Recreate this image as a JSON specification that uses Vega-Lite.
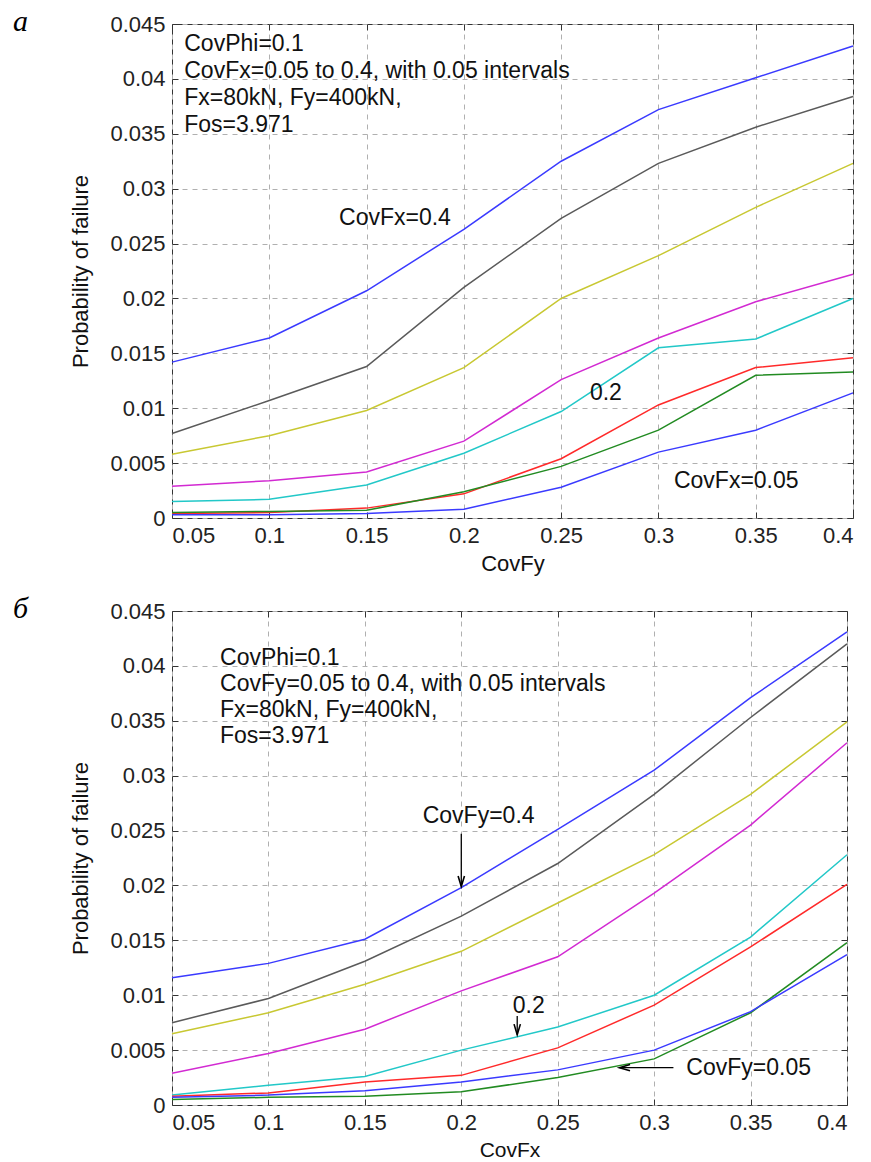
{
"$schema": "https://vega.github.io/schema/vega-lite/v6.json",
"padding": {"left": 12, "top": 6, "right": 10, "bottom": 0},
"background": "white",
"spacing": 18,
"config": {
  "font": "Liberation Sans",
  "view": {"stroke": "#333", "strokeWidth": 1},
  "axis": {"labelFont": "Liberation Sans", "labelFontSize": 22, "labelColor": "#222",
           "titleFont": "Liberation Sans", "titleFontSize": 22, "titleFontWeight": "normal", "titleColor": "#111",
           "grid": true, "gridColor": "#b0b0b0", "gridDash": [5, 5], "gridWidth": 1,
           "domain": false, "tickColor": "#333", "tickSize": -6, "labelPadding": 13, "format": "~g"},
  "axisX": {"titlePadding": 7},
  "axisY": {"titlePadding": 17}
},
"datasets": {
  "pa": [
    {"s":0.4,"x":0.05,"p":0.0142},{"s":0.4,"x":0.1,"p":0.0164},{"s":0.4,"x":0.15,"p":0.0207},{"s":0.4,"x":0.2,"p":0.0263},{"s":0.4,"x":0.25,"p":0.0325},{"s":0.4,"x":0.3,"p":0.0372},{"s":0.4,"x":0.35,"p":0.0401},{"s":0.4,"x":0.4,"p":0.0430},
    {"s":0.35,"x":0.05,"p":0.0077},{"s":0.35,"x":0.1,"p":0.0107},{"s":0.35,"x":0.15,"p":0.0138},{"s":0.35,"x":0.2,"p":0.0210},{"s":0.35,"x":0.25,"p":0.0273},{"s":0.35,"x":0.3,"p":0.0323},{"s":0.35,"x":0.35,"p":0.0356},{"s":0.35,"x":0.4,"p":0.0384},
    {"s":0.3,"x":0.05,"p":0.0058},{"s":0.3,"x":0.1,"p":0.0075},{"s":0.3,"x":0.15,"p":0.0098},{"s":0.3,"x":0.2,"p":0.0137},{"s":0.3,"x":0.25,"p":0.0200},{"s":0.3,"x":0.3,"p":0.0239},{"s":0.3,"x":0.35,"p":0.0283},{"s":0.3,"x":0.4,"p":0.0323},
    {"s":0.25,"x":0.05,"p":0.0029},{"s":0.25,"x":0.1,"p":0.0034},{"s":0.25,"x":0.15,"p":0.0042},{"s":0.25,"x":0.2,"p":0.0070},{"s":0.25,"x":0.25,"p":0.0126},{"s":0.25,"x":0.3,"p":0.0164},{"s":0.25,"x":0.35,"p":0.0197},{"s":0.25,"x":0.4,"p":0.0222},
    {"s":0.2,"x":0.05,"p":0.0015},{"s":0.2,"x":0.1,"p":0.0017},{"s":0.2,"x":0.15,"p":0.0030},{"s":0.2,"x":0.2,"p":0.0059},{"s":0.2,"x":0.25,"p":0.0097},{"s":0.2,"x":0.3,"p":0.0155},{"s":0.2,"x":0.35,"p":0.0163},{"s":0.2,"x":0.4,"p":0.0200},
    {"s":0.15,"x":0.05,"p":0.0004},{"s":0.15,"x":0.1,"p":0.0005},{"s":0.15,"x":0.15,"p":0.0009},{"s":0.15,"x":0.2,"p":0.0022},{"s":0.15,"x":0.25,"p":0.0054},{"s":0.15,"x":0.3,"p":0.0103},{"s":0.15,"x":0.35,"p":0.0137},{"s":0.15,"x":0.4,"p":0.0146},
    {"s":0.1,"x":0.05,"p":0.0005},{"s":0.1,"x":0.1,"p":0.0006},{"s":0.1,"x":0.15,"p":0.0007},{"s":0.1,"x":0.2,"p":0.0024},{"s":0.1,"x":0.25,"p":0.0047},{"s":0.1,"x":0.3,"p":0.0080},{"s":0.1,"x":0.35,"p":0.0130},{"s":0.1,"x":0.4,"p":0.0133},
    {"s":0.05,"x":0.05,"p":0.0003},{"s":0.05,"x":0.1,"p":0.0003},{"s":0.05,"x":0.15,"p":0.0004},{"s":0.05,"x":0.2,"p":0.0008},{"s":0.05,"x":0.25,"p":0.0028},{"s":0.05,"x":0.3,"p":0.0060},{"s":0.05,"x":0.35,"p":0.0080},{"s":0.05,"x":0.4,"p":0.0114}
  ],
  "pb": [
    {"s":0.4,"x":0.05,"p":0.0116},{"s":0.4,"x":0.1,"p":0.0129},{"s":0.4,"x":0.15,"p":0.0151},{"s":0.4,"x":0.2,"p":0.0198},{"s":0.4,"x":0.25,"p":0.0251},{"s":0.4,"x":0.3,"p":0.0305},{"s":0.4,"x":0.35,"p":0.0371},{"s":0.4,"x":0.4,"p":0.0431},
    {"s":0.35,"x":0.05,"p":0.0075},{"s":0.35,"x":0.1,"p":0.0097},{"s":0.35,"x":0.15,"p":0.0131},{"s":0.35,"x":0.2,"p":0.0172},{"s":0.35,"x":0.25,"p":0.0220},{"s":0.35,"x":0.3,"p":0.0283},{"s":0.35,"x":0.35,"p":0.0353},{"s":0.35,"x":0.4,"p":0.0420},
    {"s":0.3,"x":0.05,"p":0.0065},{"s":0.3,"x":0.1,"p":0.0084},{"s":0.3,"x":0.15,"p":0.0110},{"s":0.3,"x":0.2,"p":0.0140},{"s":0.3,"x":0.25,"p":0.0184},{"s":0.3,"x":0.3,"p":0.0228},{"s":0.3,"x":0.35,"p":0.0283},{"s":0.3,"x":0.4,"p":0.0349},
    {"s":0.25,"x":0.05,"p":0.0029},{"s":0.25,"x":0.1,"p":0.0047},{"s":0.25,"x":0.15,"p":0.0069},{"s":0.25,"x":0.2,"p":0.0104},{"s":0.25,"x":0.25,"p":0.0135},{"s":0.25,"x":0.3,"p":0.0193},{"s":0.25,"x":0.35,"p":0.0255},{"s":0.25,"x":0.4,"p":0.0330},
    {"s":0.2,"x":0.05,"p":0.0009},{"s":0.2,"x":0.1,"p":0.0018},{"s":0.2,"x":0.15,"p":0.0026},{"s":0.2,"x":0.2,"p":0.0050},{"s":0.2,"x":0.25,"p":0.0071},{"s":0.2,"x":0.3,"p":0.0100},{"s":0.2,"x":0.35,"p":0.0153},{"s":0.2,"x":0.4,"p":0.0228},
    {"s":0.15,"x":0.05,"p":0.0008},{"s":0.15,"x":0.1,"p":0.0011},{"s":0.15,"x":0.15,"p":0.0021},{"s":0.15,"x":0.2,"p":0.0027},{"s":0.15,"x":0.25,"p":0.0052},{"s":0.15,"x":0.3,"p":0.0091},{"s":0.15,"x":0.35,"p":0.0144},{"s":0.15,"x":0.4,"p":0.0201},
    {"s":0.1,"x":0.05,"p":0.0005},{"s":0.1,"x":0.1,"p":0.0007},{"s":0.1,"x":0.15,"p":0.0008},{"s":0.1,"x":0.2,"p":0.0012},{"s":0.1,"x":0.25,"p":0.0025},{"s":0.1,"x":0.3,"p":0.0042},{"s":0.1,"x":0.35,"p":0.0084},{"s":0.1,"x":0.4,"p":0.0148},
    {"s":0.05,"x":0.05,"p":0.0007},{"s":0.05,"x":0.1,"p":0.0009},{"s":0.05,"x":0.15,"p":0.0013},{"s":0.05,"x":0.2,"p":0.0021},{"s":0.05,"x":0.25,"p":0.0032},{"s":0.05,"x":0.3,"p":0.0050},{"s":0.05,"x":0.35,"p":0.0085},{"s":0.05,"x":0.4,"p":0.0137}
  ],
  "infoA": [{"x": 0.0563, "y": 0.0442, "text": "CovPhi=0.1\nCovFx=0.05 to 0.4, with 0.05 intervals\nFx=80kN, Fy=400kN,\nFos=3.971"}],
  "infoB": [{"x": 0.0749, "y": 0.0417, "text": "CovPhi=0.1\nCovFy=0.05 to 0.4, with 0.05 intervals\nFx=80kN, Fy=400kN,\nFos=3.971"}],
  "labA": [{"x": 0.1646, "y": 0.0273, "text": "CovFx=0.4"}, {"x": 0.273, "y": 0.0114, "text": "0.2"}, {"x": 0.340, "y": 0.0034, "text": "CovFx=0.05"}],
  "labB": [{"x": 0.209, "y": 0.0263, "text": "CovFy=0.4"}, {"x": 0.235, "y": 0.0090, "text": "0.2"}, {"x": 0.349, "y": 0.0034, "text": "CovFy=0.05"}],
  "arrB": [{"x": 0.2, "y": 0.0247, "x2": 0.2, "y2": 0.0199, "dir": "down"}, {"x": 0.229, "y": 0.0081, "x2": 0.229, "y2": 0.0064, "dir": "down"}, {"x": 0.310, "y": 0.0034, "x2": 0.282, "y2": 0.0034, "dir": "left"}]
},
"vconcat": [
  {
    "width": 681, "height": 494,
    "title": {"text": "а", "anchor": "start", "frame": "group", "orient": "top", "dx": -159, "dy": 48, "offset": 0, "baseline": "alphabetic", "font": "Liberation Serif", "fontStyle": "italic", "fontWeight": "normal", "fontSize": 30, "color": "#000"},
    "resolve": {"axis": {"x": "independent", "y": "independent"}},
    "layer": [
      {
        "data": {"name": "pa"},
        "mark": {"type": "line", "strokeWidth": 1.5},
        "encoding": {
          "x": {"field": "x", "type": "quantitative", "scale": {"domain": [0.05, 0.4], "nice": false, "zero": false}, "axis": {"title": "CovFy", "values": [0.05,0.1,0.15,0.2,0.25,0.3,0.35,0.4]}},
          "y": {"field": "p", "type": "quantitative", "scale": {"domain": [0, 0.045], "nice": false}, "axis": {"title": "Probability of failure", "values": [0,0.005,0.01,0.015,0.02,0.025,0.03,0.035,0.04,0.045]}},
          "color": {"field": "s", "type": "ordinal", "legend": null, "scale": {"domain": [0.05,0.1,0.15,0.2,0.25,0.3,0.35,0.4], "range": ["#3a3aff","#228b22","#ff2a2a","#22c8c8","#d22ad2","#c8c832","#5a5a5a","#3a3aff"]}},
          "order": {"field": "x", "type": "quantitative"}
        }
      },
      {
        "data": {"name": "infoA"},
        "mark": {"type": "text", "align": "left", "baseline": "top", "lineBreak": "\n", "lineHeight": 27, "fontSize": 23, "font": "Liberation Sans", "color": "#111"},
        "encoding": {
          "x": {"field": "x", "type": "quantitative", "axis": {"orient": "top", "labels": false, "title": null, "grid": false, "values": [0.05,0.1,0.15,0.2,0.25,0.3,0.35,0.4]}},
          "y": {"field": "y", "type": "quantitative", "axis": {"orient": "right", "labels": false, "title": null, "grid": false, "values": [0,0.005,0.01,0.015,0.02,0.025,0.03,0.035,0.04,0.045]}},
          "text": {"field": "text", "type": "nominal"}
        }
      },
      {
        "data": {"name": "labA"},
        "mark": {"type": "text", "align": "center", "baseline": "middle", "fontSize": 23, "font": "Liberation Sans", "color": "#111"},
        "encoding": {
          "x": {"field": "x", "type": "quantitative", "axis": null},
          "y": {"field": "y", "type": "quantitative", "axis": null},
          "text": {"field": "text", "type": "nominal"}
        }
      }
    ]
  },
  {
    "width": 675, "height": 494,
    "title": {"text": "б", "anchor": "start", "frame": "group", "orient": "top", "dx": -159, "dy": 48, "offset": 0, "baseline": "alphabetic", "font": "Liberation Serif", "fontStyle": "italic", "fontWeight": "normal", "fontSize": 30, "color": "#000"},
    "resolve": {"axis": {"x": "independent", "y": "independent"}},
    "layer": [
      {
        "data": {"name": "pb"},
        "mark": {"type": "line", "strokeWidth": 1.5},
        "encoding": {
          "x": {"field": "x", "type": "quantitative", "scale": {"domain": [0.05, 0.4], "nice": false, "zero": false}, "axis": {"title": "CovFx", "titleFontSize": 21, "titlePadding": 6, "values": [0.05,0.1,0.15,0.2,0.25,0.3,0.35,0.4]}},
          "y": {"field": "p", "type": "quantitative", "scale": {"domain": [0, 0.045], "nice": false}, "axis": {"title": "Probability of failure", "values": [0,0.005,0.01,0.015,0.02,0.025,0.03,0.035,0.04,0.045]}},
          "color": {"field": "s", "type": "ordinal", "legend": null, "scale": {"domain": [0.05,0.1,0.15,0.2,0.25,0.3,0.35,0.4], "range": ["#3a3aff","#228b22","#ff2a2a","#22c8c8","#d22ad2","#c8c832","#5a5a5a","#3a3aff"]}},
          "order": {"field": "x", "type": "quantitative"}
        }
      },
      {
        "data": {"name": "infoB"},
        "mark": {"type": "text", "align": "left", "baseline": "top", "lineBreak": "\n", "lineHeight": 26, "fontSize": 23, "font": "Liberation Sans", "color": "#111"},
        "encoding": {
          "x": {"field": "x", "type": "quantitative", "axis": {"orient": "top", "labels": false, "title": null, "grid": false, "values": [0.05,0.1,0.15,0.2,0.25,0.3,0.35,0.4]}},
          "y": {"field": "y", "type": "quantitative", "axis": {"orient": "right", "labels": false, "title": null, "grid": false, "values": [0,0.005,0.01,0.015,0.02,0.025,0.03,0.035,0.04,0.045]}},
          "text": {"field": "text", "type": "nominal"}
        }
      },
      {
        "data": {"name": "labB"},
        "mark": {"type": "text", "align": "center", "baseline": "middle", "fontSize": 23, "font": "Liberation Sans", "color": "#111"},
        "encoding": {
          "x": {"field": "x", "type": "quantitative", "axis": null},
          "y": {"field": "y", "type": "quantitative", "axis": null},
          "text": {"field": "text", "type": "nominal"}
        }
      },
      {
        "data": {"name": "arrB"},
        "mark": {"type": "rule", "color": "#000", "strokeWidth": 1.3},
        "encoding": {
          "x": {"field": "x", "type": "quantitative", "axis": null},
          "y": {"field": "y", "type": "quantitative", "axis": null},
          "x2": {"field": "x2"},
          "y2": {"field": "y2"}
        }
      },
      {
        "data": {"name": "arrB"},
        "transform": [{"filter": "datum.dir == 'down'"}],
        "mark": {"type": "point", "shape": "M-0.45,-1.5L0,0L0.45,-1.5", "filled": false, "stroke": "#000", "strokeWidth": 1.6, "size": 200, "opacity": 1},
        "encoding": {
          "x": {"field": "x2", "type": "quantitative", "axis": null},
          "y": {"field": "y2", "type": "quantitative", "axis": null}
        }
      },
      {
        "data": {"name": "arrB"},
        "transform": [{"filter": "datum.dir == 'left'"}],
        "mark": {"type": "point", "shape": "M1.5,-0.45L0,0L1.5,0.45", "filled": false, "stroke": "#000", "strokeWidth": 1.6, "size": 200, "opacity": 1},
        "encoding": {
          "x": {"field": "x2", "type": "quantitative", "axis": null},
          "y": {"field": "y2", "type": "quantitative", "axis": null}
        }
      }
    ]
  }
]
}
